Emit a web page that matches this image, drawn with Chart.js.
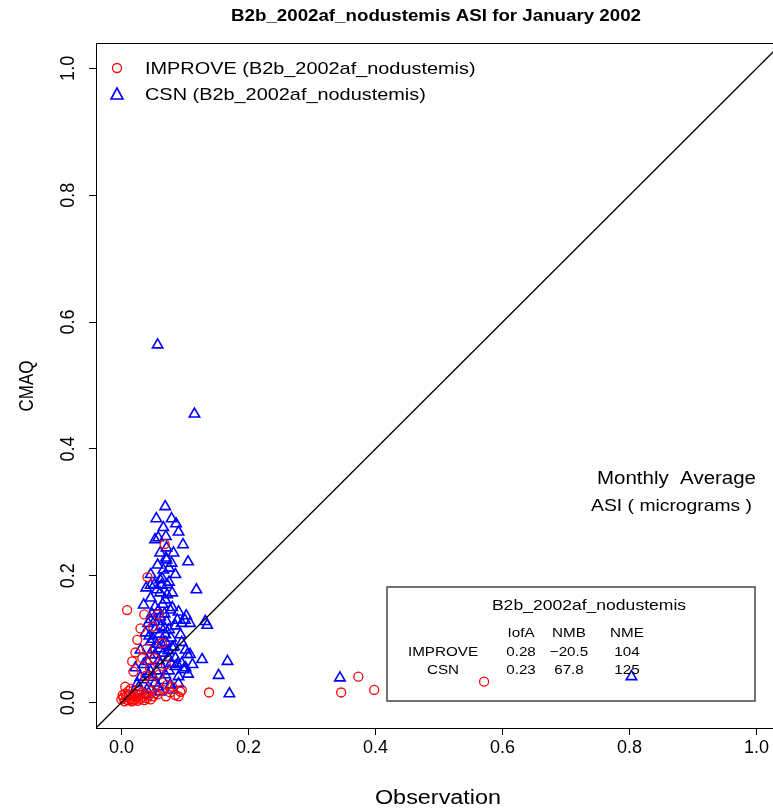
<!DOCTYPE html>
<html lang="en">
<head>
  <meta charset="UTF-8" />
  <title>B2b_2002af_nodustemis ASI for January 2002</title>
  <script src="https://cdn.jsdelivr.net/npm/chart.js"></script>
  <style>
    html, body { margin: 0; padding: 0; background: #fff; overflow: hidden; }
    #wrap { width: 800px; height: 810px; }
  </style>
</head>
<body>
  <div id="wrap"><canvas id="scatter" width="800" height="810"></canvas></div>

  <script>
    // axis ticks
    const xTicks = [0, 0.2, 0.4, 0.6, 0.8, 1.0];
    const yTicks = [0, 0.2, 0.4, 0.6, 0.8, 1.0];
    const axisMin = -0.04, axisMax = 1.04;

    // IMPROVE sites (obs, model)
    const improveObs = [0.009, 0.138, 0.346, 0.373, 0.398, 0.571, 0.068, 0.041, 0.036, 0.030,
      0.025, 0.022, 0.017, 0.019, 0.006, 0.093, 0.077, 0.072, 0.057, 0.064,
      0.058, 0.050, 0.000, 0.003, 0.005, 0.008, 0.010, 0.012, 0.014, 0.016,
      0.018, 0.020, 0.022, 0.024, 0.026, 0.028, 0.030, 0.032, 0.034, 0.036,
      0.038, 0.040, 0.043, 0.046, 0.050, 0.054, 0.006, 0.011, 0.015, 0.002,
      0.019, 0.027, 0.080, 0.085, 0.095, 0.090, 0.070, 0.065, 0.045, 0.040,
      0.052, 0.060, 0.033, 0.070, 0.048, 0.038];
    const improveMod = [0.146, 0.016, 0.016, 0.041, 0.020, 0.033, 0.250, 0.198, 0.139, 0.117,
      0.099, 0.079, 0.065, 0.049, 0.025, 0.017, 0.016, 0.028, 0.013, 0.094,
      0.139, 0.120, 0.005, 0.008, 0.002, 0.010, 0.004, 0.012, 0.006, 0.002,
      0.010, 0.005, 0.014, 0.008, 0.003, 0.012, 0.006, 0.016, 0.009, 0.004,
      0.013, 0.007, 0.011, 0.005, 0.010, 0.015, 0.014, 0.018, 0.022, 0.012,
      0.003, 0.020, 0.025, 0.012, 0.020, 0.010, 0.010, 0.020, 0.055, 0.085,
      0.070, 0.045, 0.070, 0.060, 0.032, 0.042];

    // CSN sites (obs, model)
    const csnObs = [0.069, 0.055, 0.079, 0.066, 0.086, 0.090, 0.053, 0.071, 0.097, 0.061,
      0.071, 0.057, 0.079, 0.066, 0.046, 0.085, 0.061, 0.052, 0.072, 0.039,
      0.061, 0.080, 0.046, 0.069, 0.053, 0.035, 0.077, 0.090, 0.102, 0.061,
      0.046, 0.071, 0.085, 0.053, 0.038, 0.069, 0.093, 0.046, 0.064, 0.080,
      0.101, 0.030, 0.053, 0.074, 0.108, 0.041, 0.061, 0.085, 0.101, 0.022,
      0.046, 0.069, 0.090, 0.035, 0.053, 0.077, 0.027, 0.046, 0.061, 0.038,
      0.017, 0.057, 0.115, 0.132, 0.135, 0.118, 0.105, 0.167, 0.170, 0.153,
      0.127, 0.104, 0.344, 0.803, 0.058, 0.065, 0.042, 0.075, 0.050, 0.060,
      0.070, 0.085, 0.095, 0.055, 0.065, 0.075, 0.045, 0.035, 0.030, 0.025,
      0.058, 0.080, 0.090, 0.040, 0.095, 0.088, 0.062, 0.048, 0.072, 0.056,
      0.064, 0.075, 0.058, 0.082, 0.070, 0.100, 0.095, 0.108, 0.044, 0.052,
      0.060, 0.068, 0.078, 0.083, 0.056, 0.049, 0.066, 0.074, 0.088, 0.098,
      0.105, 0.112, 0.078, 0.059, 0.042, 0.050, 0.068, 0.080, 0.063, 0.070,
      0.075, 0.046];
    const csnMod = [0.309, 0.290, 0.290, 0.276, 0.282, 0.269, 0.257, 0.244, 0.249, 0.236,
      0.225, 0.217, 0.220, 0.209, 0.202, 0.202, 0.194, 0.186, 0.186, 0.181,
      0.173, 0.173, 0.165, 0.162, 0.151, 0.154, 0.146, 0.143, 0.137, 0.135,
      0.131, 0.128, 0.121, 0.115, 0.110, 0.107, 0.107, 0.096, 0.091, 0.087,
      0.083, 0.083, 0.076, 0.071, 0.076, 0.065, 0.060, 0.057, 0.055, 0.055,
      0.049, 0.044, 0.041, 0.036, 0.031, 0.028, 0.024, 0.020, 0.017, 0.013,
      0.013, 0.564, 0.455, 0.128, 0.122, 0.178, 0.222, 0.065, 0.014, 0.043,
      0.068, 0.076, 0.039, 0.041, 0.145, 0.155, 0.125, 0.115, 0.100, 0.085,
      0.095, 0.070, 0.062, 0.050, 0.035, 0.050, 0.075, 0.060, 0.040, 0.030,
      0.025, 0.020, 0.030, 0.020, 0.095, 0.130, 0.120, 0.140, 0.170, 0.178,
      0.196, 0.212, 0.260, 0.236, 0.262, 0.130, 0.125, 0.125, 0.105, 0.128,
      0.108, 0.118, 0.102, 0.088, 0.092, 0.083, 0.078, 0.082, 0.060, 0.052,
      0.045, 0.060, 0.062, 0.066, 0.045, 0.040, 0.140, 0.150, 0.185, 0.228,
      0.190, 0.185];

    // statistics table
    const statNetworks = ['IMPROVE', 'CSN'];
    const statHeaders = ['IofA', 'NMB', 'NME'];
    const statValues = [['0.28', '\u221220.5', '104'], ['0.23', '67.8', '125']];

    const toPoints = (xs, ys) => xs.map((x, i) => ({ x: x, y: ys[i] }));
    const FONT = '"Liberation Sans", Arial, sans-serif';
    const SX = 1.17; // the original text is a bit wider than it is tall

    // text helper: horizontal stretch, optional rotation
    function label(ctx, txt, x, y, font, align, rot) {
      ctx.save();
      ctx.translate(x, y);
      ctx.scale(SX, 1);
      if (rot) ctx.rotate(rot);
      ctx.font = font;
      ctx.textAlign = align || 'center';
      ctx.textBaseline = 'middle';
      ctx.fillText(txt, 0, 0);
      ctx.restore();
    }

    const textPlugin = {
      id: 'rtext',
      afterDraw(chart) {
        const ctx = chart.ctx;
        const a = chart.chartArea;
        const ys = chart.scales.y;
        ctx.save();
        // frame
        ctx.strokeStyle = '#000';
        ctx.lineWidth = 1;
        ctx.strokeRect(a.left + 0.5, a.top + 0.5, a.right - a.left, a.bottom - a.top);

        ctx.fillStyle = '#000';
        // y tick labels, rotated like R
        ys.ticks.forEach((t, i) => {
          label(ctx, t.value.toFixed(1), 68, ys.getPixelForTick(i), '18px ' + FONT, 'center', -Math.PI / 2);
        });

        // title
        label(ctx, 'B2b_2002af_nodustemis ASI for January 2002', 436, 17, 'bold 16px ' + FONT);

        // axis titles
        label(ctx, 'Observation', 438, 798, '20px ' + FONT);
        label(ctx, 'CMAQ', 28, 386, '17px ' + FONT, 'center', -Math.PI / 2);

        // legend
        label(ctx, 'IMPROVE (B2b_2002af_nodustemis)', 145, 69, '17px ' + FONT, 'left');
        label(ctx, 'CSN (B2b_2002af_nodustemis)', 145, 95, '17px ' + FONT, 'left');
        ctx.strokeStyle = '#ff0000';
        ctx.lineWidth = 1.3;
        ctx.beginPath();
        ctx.arc(117, 68, 4.5, 0, Math.PI * 2);
        ctx.stroke();
        ctx.strokeStyle = '#0000ff';
        ctx.lineWidth = 1.6;
        ctx.beginPath();
        ctx.moveTo(117, 88);
        ctx.lineTo(123, 99);
        ctx.lineTo(111, 99);
        ctx.closePath();
        ctx.stroke();

        // monthly average note
        label(ctx, 'Monthly  Average', 756, 479, '17.5px ' + FONT, 'right');
        label(ctx, 'ASI ( micrograms )', 752, 506, '16.5px ' + FONT, 'right');

        // stats box
        ctx.strokeStyle = '#444';
        ctx.lineWidth = 1.5;
        ctx.strokeRect(387, 587, 368, 114);
        label(ctx, 'B2b_2002af_nodustemis', 589, 606, '15px ' + FONT);
        const colX = [521, 569, 627];
        statHeaders.forEach((h, i) => label(ctx, h, colX[i], 633, '13px ' + FONT));
        statNetworks.forEach((n, r) => {
          const yy = 652 + r * 18;
          label(ctx, n, 443, yy, '13px ' + FONT);
          statValues[r].forEach((v, i) => label(ctx, v, colX[i], yy, '13px ' + FONT));
        });
        ctx.restore();
      }
    };

    const axisCommon = {
      type: 'linear',
      min: axisMin,
      max: axisMax,
      grid: { drawOnChartArea: false, drawTicks: true, tickLength: 7, color: '#000', lineWidth: 1 },
      border: { display: true, color: '#000', width: 1 }
    };

    new Chart(document.getElementById('scatter'), {
      type: 'scatter',
      data: {
        datasets: [
          {
            type: 'line',
            label: '1:1',
            data: [{ x: axisMin, y: axisMin }, { x: axisMax, y: axisMax }],
            borderColor: '#000',
            borderWidth: 1.3,
            pointRadius: 0,
            fill: false
          },
          {
            label: 'IMPROVE (B2b_2002af_nodustemis)',
            data: toPoints(improveObs, improveMod),
            pointStyle: 'circle',
            pointRadius: 4.5,
            borderColor: '#ff0000',
            backgroundColor: 'rgba(0,0,0,0)',
            borderWidth: 1.3
          },
          {
            label: 'CSN (B2b_2002af_nodustemis)',
            data: toPoints(csnObs, csnMod),
            pointStyle: 'triangle',
            pointRadius: 6,
            borderColor: '#0000ff',
            backgroundColor: 'rgba(0,0,0,0)',
            borderWidth: 1.6
          }
        ]
      },
      options: {
        responsive: false,
        animation: false,
        devicePixelRatio: 1,
        layout: { padding: { top: 43, right: 18, left: 0, bottom: 0 } },
        plugins: {
          legend: { display: false },
          title: { display: false },
          tooltip: { enabled: false }
        },
        scales: {
          x: Object.assign({}, axisCommon, {
            position: 'bottom',
            afterBuildTicks: s => { s.ticks = xTicks.map(v => ({ value: v })); },
            afterFit: s => { s.height = 82; },
            ticks: { color: '#000', padding: 2, font: { family: FONT, size: 18 }, maxRotation: 0, callback: v => v.toFixed(1) }
          }),
          y: Object.assign({}, axisCommon, {
            position: 'left',
            afterBuildTicks: s => { s.ticks = yTicks.map(v => ({ value: v })); },
            afterFit: s => { s.width = 96; },
            ticks: { display: false }
          })
        }
      },
      plugins: [textPlugin]
    });
  </script>
</body>
</html>
